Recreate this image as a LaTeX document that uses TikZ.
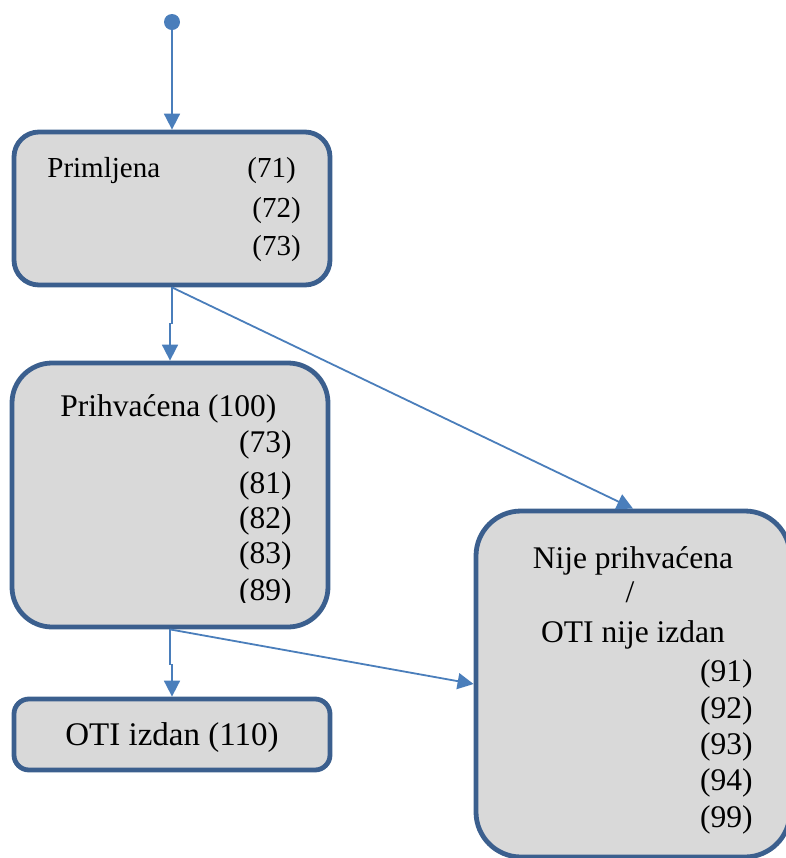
\documentclass[tikz,border=0pt]{standalone}
\usepackage{fontspec}
\setmainfont{Liberation Serif}
\usetikzlibrary{arrows.meta,positioning}
\definecolor{boxline}{HTML}{3B5F8E}
\definecolor{boxfill}{HTML}{D9D9D9}
\definecolor{flowline}{HTML}{4A7EBB}
\tikzset{
    stanje/.style={rectangle, draw=boxline, fill=boxfill, line width=2.4pt,
        minimum width=158pt, inner sep=0pt},
    flow/.style={draw=flowline, line width=0.9pt,
        -{Triangle[length=8pt,width=8pt]}},
    pocetak/.style={circle, fill=flowline, minimum size=8pt, inner sep=0pt},
    txtA/.style={inner sep=0pt, font=\fontsize{14.5pt}{17pt}\selectfont},
    txtB/.style={inner sep=0pt, font=\fontsize{15.75pt}{18pt}\selectfont},
    txtC/.style={inner sep=0pt, font=\fontsize{16.5pt}{19pt}\selectfont}
}

\begin{document}
\begin{tikzpicture}[x=0.5pt,y=-0.5pt]
                \clip (0,0) rectangle (786,858);
                % states
                \node[pocetak] (start) at (172,22) {};
                \node[stanje, rounded corners=12.5pt, minimum height=76.5pt] (prim) at (172,208.5) {};
                \node[stanje, rounded corners=20pt, minimum height=132pt] (prih) at (170,495) {};
                \node[stanje, rounded corners=7.5pt, minimum height=35.5pt] (oti) at (172,734.5) {};
                \node[stanje, rounded corners=22.5pt, minimum width=157pt, minimum height=173pt] (nije) at (633,684) {};
                % texts
                \node[txtA, anchor=base west] (prim-name) at (47,177) {Primljena};
                \foreach \n/\x/\y in {71/247/177, 72/252/217, 73/252/255}
                    \node[txtA, anchor=base west] (prim-\n) at (\x,\y) {(\n)};
                \begin{scope}
                    \clip (0,0) rectangle (786,602);
                    \node[txtB, anchor=base west] (prih-name) at (60,416) {Prihvaćena (100)};
                    \foreach \n/\y in {73/452, 81/493, 82/528, 83/563, 89/600}
                        \node[txtB, anchor=base east] (prih-\n) at (292,\y) {(\n)};
                \end{scope}
                \node[txtC, anchor=base] (oti-name) at (172,745) {OTI izdan (110)};
                \node[txtB, anchor=base] (nije-name) at (633,568) {Nije prihvaćena};
                \node[txtB, anchor=base] (nije-sep) at (630,602) {/};
                \node[txtB, anchor=base] (nije-oti) at (633,642) {OTI nije izdan};
                \foreach \n/\y in {91/681, 92/718, 93/754, 94/790, 99/827}
                    \node[txtB, anchor=base east] (nije-\n) at (753,\y) {(\n)};
                % transitions
                \draw[flow] (start) -- (prim.north);
                \draw[flow] (prim.south) -- ++(0,36) -| (prih.north);
                \draw[flow] (prim.south) -- (nije.north);
                \draw[flow] (prih.south) -- ++(0,35) -| (oti.north);
                \draw[flow] (prih.south) -- (nije.west);
\end{tikzpicture}
\end{document}
